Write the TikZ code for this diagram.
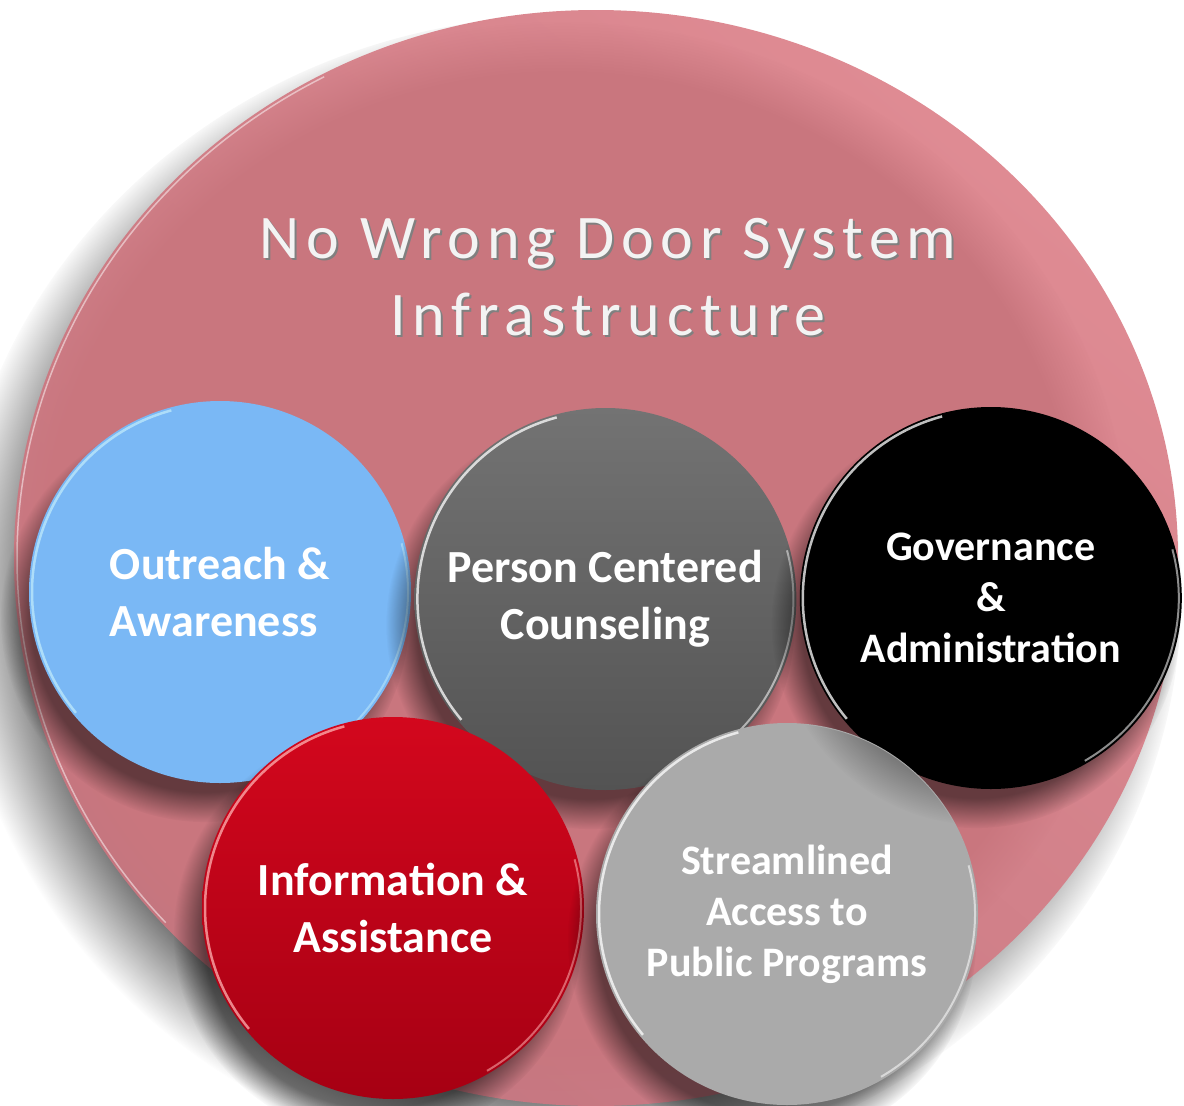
\documentclass[tikz,border=0pt]{standalone}
\usepackage{fontspec}
\setmainfont{Carlito}
\newfontfamily\headfont[LetterSpace=11]{Carlito}
\usetikzlibrary{positioning,shadows,fadings,calc}

\definecolor{diskpink}{HTML}{C9767E}
\definecolor{rimlight}{HTML}{DF8B93}
\definecolor{rimdark}{HTML}{C47680}
\definecolor{outreachblue}{HTML}{7AB8F5}
\definecolor{counseltop}{HTML}{737373}
\definecolor{counselbottom}{HTML}{535353}
\definecolor{infotop}{HTML}{D3071D}
\definecolor{infobottom}{HTML}{A60013}
\definecolor{accessgray}{HTML}{AAAAAA}
\definecolor{headwhite}{HTML}{F3F3F3}

\tikzset{
    ball/.style={
        circle,
        minimum size=382pt,
        inner sep=0pt,
        text=white,
        align=center,
        font=\fontsize{46}{57}\selectfont\bfseries,
        circular drop shadow={shadow xshift=-14pt, shadow yshift=-24pt, shadow scale=1.07, fill=black, opacity=.5},
        path picture={
            \draw[#1, opacity=.75, line width=2.5pt]
                (path picture bounding box.center) ++(105:188pt)
                arc[start angle=105, end angle=220, radius=188pt];
            \draw[#1, opacity=.55, line width=2pt]
                (path picture bounding box.center) ++(-60:188pt)
                arc[start angle=-60, end angle=15, radius=188pt];
        }
    },
    ball/.default=white,
    smallball/.style={
        ball=#1,
        font=\fontsize{42}{51}\selectfont\bfseries
    },
    smallball/.default=white,
    headline/.style={
        font=\headfont\fontsize{62}{77}\selectfont,
        align=center,
        text=headwhite
    },
}

\begin{document}
\begin{tikzpicture}[x=1pt, y=-1pt, node distance=3pt]
    % canvas
    \fill[white] (0,0) rectangle (1184,1106);
    \useasboundingbox (0,0) rectangle (1184,1106);

    % disc, its shadow and rim
    \coordinate (disc) at (596,558);
    \fill[black, opacity=.6, path fading=circle with fuzzy edge 15 percent]
        ($(disc)+(-28,34)$) ellipse [x radius=615pt, y radius=580pt];
    \shade[top color=rimlight, bottom color=rimdark, shading angle=-40]
        (disc) ellipse [x radius=582pt, y radius=548pt];
    \begin{scope}
        \clip (disc) ellipse [x radius=582pt, y radius=548pt];
        \fill[diskpink, path fading=circle with fuzzy edge 10 percent]
            (562,556) ellipse [x radius=568pt, y radius=534pt];
    \end{scope}
    \draw[white, opacity=.5, line width=1.5pt]
        (disc) ++(118:579pt and 545pt)
        arc[start angle=118, end angle=222, x radius=579pt, y radius=545pt];

    % heading
    \node[headline, text=black!50] (headshade) at (610,279) {No Wrong Door System\\Infrastructure};
    \node[headline] (head) at (608,277) {No Wrong Door System\\Infrastructure};

    % balls
    \node[ball=cyan!25, fill=outreachblue, align=left] (outreach) at (220,592) {Outreach \&\\Awareness};
    \node[ball, top color=counseltop, bottom color=counselbottom, right=3pt of outreach, yshift=-7pt] (counseling) {Person Centered\\Counseling};
    \node[smallball, fill=black, right=3pt of counseling, yshift=1pt] (governance) {Governance\\\&\\Administration};
    \node[ball=red!30!white, top color=infotop, bottom color=infobottom] (information) at (393,908) {Information \&\\Assistance};
    \node[smallball, fill=accessgray] (access) at (787,914) {Streamlined\\Access to\\Public Programs};

    % shade of governance on access
    \begin{scope}
        \clip (access) circle (190pt);
        \fill[black, opacity=.28, path fading=circle with fuzzy edge 20 percent]
            ($(governance)+(-10pt,-22pt)$) circle (205pt);
    \end{scope}

\end{tikzpicture}
\end{document}
